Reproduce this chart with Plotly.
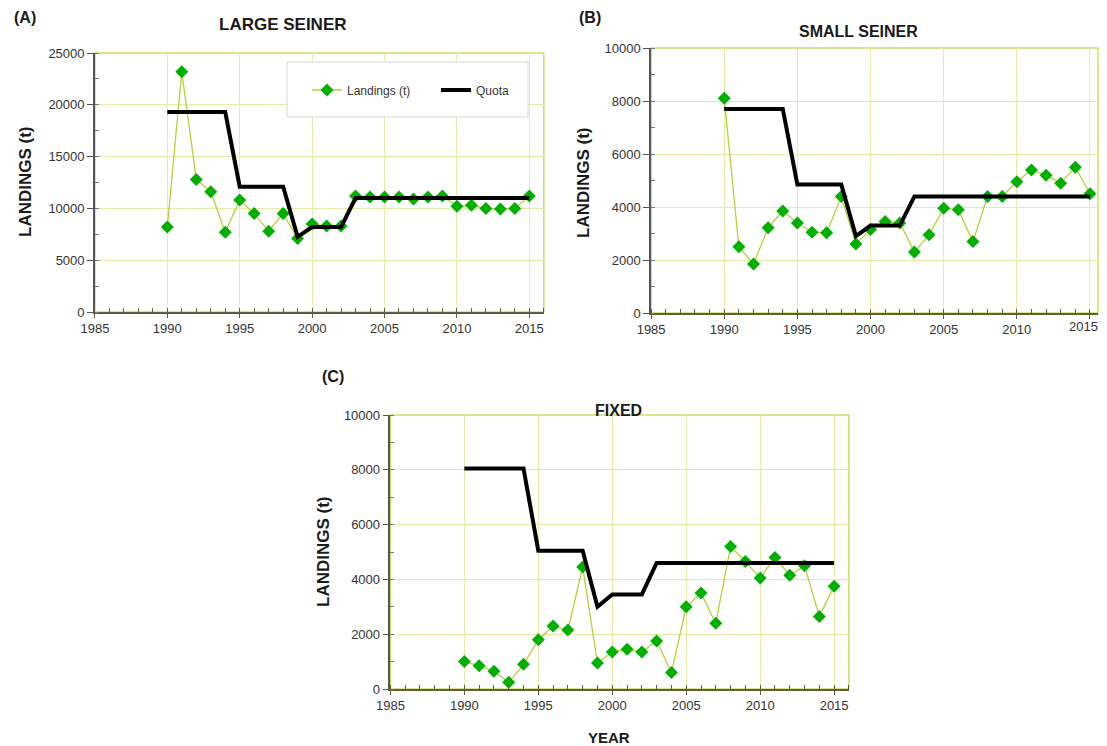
import plotly.graph_objects as go

years = list(range(1990, 2016))

large_landings = [8200, 23200, 12800, 11600, 7700, 10800, 9500, 7800, 9500, 7100,
                  8500, 8300, 8300, 11200, 11100, 11100, 11100, 10900, 11100, 11200,
                  10200, 10300, 10000, 9950, 10000, 11200]
large_quota = [19300, 19300, 19300, 19300, 19300, 12100, 12100, 12100, 12100, 7250,
               8200, 8200, 8200, 11000, 11000, 11000, 11000, 11000, 11000, 11000,
               11000, 11000, 11000, 11000, 11000, 11000]

small_landings = [8100, 2500, 1850, 3220, 3850, 3400, 3050, 3030, 4400, 2600,
                  3150, 3450, 3400, 2300, 2950, 3950, 3900, 2700, 4400, 4400,
                  4950, 5400, 5200, 4900, 5500, 4500]
small_quota = [7700, 7700, 7700, 7700, 7700, 4850, 4850, 4850, 4850, 2900,
               3300, 3300, 3300, 4400, 4400, 4400, 4400, 4400, 4400, 4400,
               4400, 4400, 4400, 4400, 4400, 4400]

fixed_landings = [1000, 850, 650, 250, 900, 1800, 2300, 2150, 4450, 950,
                  1350, 1450, 1350, 1750, 600, 3000, 3500, 2400, 5200, 4650,
                  4050, 4800, 4150, 4500, 2650, 3750]
fixed_quota = [8050, 8050, 8050, 8050, 8050, 5050, 5050, 5050, 5050, 3000,
               3450, 3450, 3450, 4600, 4600, 4600, 4600, 4600, 4600, 4600,
               4600, 4600, 4600, 4600, 4600, 4600]

x_ticks = [1985, 1990, 1995, 2000, 2005, 2010, 2015]
x_labels = [str(v) for v in x_ticks]

# the page body has an 8px margin: the figure starts at (8, 8) in the window
OFF = 8
W, H = 1107 - OFF, 746 - OFF
FONT = "Arial, Liberation Sans, sans-serif"
GREEN_LINE = "#b7cf3c"
MARKER = "#00b000"
GRID = "#e4eca8"
BORDER = "#cfdc6a"
AXIS = "#5e5e3a"


def fx(x):
    return (x - OFF) / W


def fy(y):
    return 1 - (y - OFF) / H


# panel B's last label sits at the window edge; it is drawn as an annotation nudged inward
b_labels = x_labels[:-1] + [""]

panels = [
    dict(land=large_landings, quota=large_quota, xmax=2016, labels=x_labels,
         ymax=25000, dtick=5000, minor=2500, px=(94.9, 543.8), py=(53, 312)),
    dict(land=small_landings, quota=small_quota, xmax=2015.55, labels=b_labels,
         ymax=10000, dtick=2000, minor=1000, px=(651.1, 1098.0), py=(48, 313)),
    dict(land=fixed_landings, quota=fixed_quota, xmax=2016, labels=x_labels,
         ymax=10000, dtick=2000, minor=1000, px=(390.4, 848.9), py=(415, 689)),
]

fig = go.Figure()
layout = dict(width=W, height=H, margin=dict(l=0, r=0, t=0, b=0, autoexpand=False),
              paper_bgcolor="white", plot_bgcolor="white",
              font=dict(family=FONT, color="#333333"),
              showlegend=True,
              legend=dict(x=fx(307), y=fy(90), xanchor="left", yanchor="middle",
                          orientation="h", bgcolor="rgba(0,0,0,0)", borderwidth=0,
                          font=dict(size=12, family=FONT, color="#333"),
                          itemwidth=30, entrywidth=84, tracegroupgap=0),
              shapes=[], annotations=[])

# legend frame
layout["shapes"].append(dict(type="rect", xref="paper", yref="paper",
                             x0=fx(287), x1=fx(528), y0=fy(117), y1=fy(62),
                             line=dict(color="#d8d8d8", width=1), fillcolor="white",
                             layer="above"))

for i, p in enumerate(panels):
    n = "" if i == 0 else str(i + 1)
    xa, ya = "x" + n, "y" + n
    fig.add_trace(go.Scatter(x=years, y=p["land"], mode="lines+markers", name="Landings (t)",
                             line=dict(color=GREEN_LINE, width=1.3),
                             marker=dict(symbol="diamond", size=10, color=MARKER,
                                         line=dict(width=0)),
                             xaxis=xa, yaxis=ya, showlegend=(i == 0)))
    fig.add_trace(go.Scatter(x=years, y=p["quota"], mode="lines", name="Quota",
                             line=dict(color="black", width=4),
                             xaxis=xa, yaxis=ya, showlegend=(i == 0)))
    layout["xaxis" + n] = dict(
        domain=[fx(p["px"][0]), fx(p["px"][1])], anchor=ya, automargin=False,
        range=[1985, p["xmax"]], tickvals=x_ticks, ticktext=p["labels"],
        ticklabeloverflow="allow",
        showgrid=True, gridcolor=GRID, gridwidth=1,
        showline=True, linecolor=AXIS, linewidth=1.5,
        ticks="outside", ticklen=4, tickcolor=AXIS,
        minor=dict(dtick=1, tick0=1985, ticks="inside", ticklen=4, tickcolor=AXIS, showgrid=False),
        tickfont=dict(size=13, family=FONT, color="#333"), zeroline=False, fixedrange=True)
    layout["yaxis" + n] = dict(
        domain=[fy(p["py"][1]), fy(p["py"][0])], anchor=xa, automargin=False,
        range=[0, p["ymax"]], dtick=p["dtick"], tick0=0, tickformat="d",
        ticklabeloverflow="allow",
        showgrid=True, gridcolor=GRID, gridwidth=1,
        showline=True, linecolor="#555555", linewidth=1.5,
        ticks="outside", ticklen=6, tickcolor="#555555",
        minor=dict(dtick=p["minor"], ticks="inside", ticklen=4, tickcolor="#777777", showgrid=False),
        tickfont=dict(size=13, family=FONT, color="#333"), zeroline=False, fixedrange=True)
    layout["shapes"].append(dict(type="rect", xref=xa + " domain", yref=ya + " domain",
                                 x0=0, x1=1, y0=0, y1=1, line=dict(color=BORDER, width=1.5),
                                 layer="below"))

# last x label of panel B, anchored to its tick but pulled inside the window
layout["annotations"].append(dict(text=x_labels[-1], x=x_ticks[-1], xref="x2",
                                  y=0, yref="y2 domain", xanchor="center", yanchor="top",
                                  xshift=-6, yshift=-4, showarrow=False,
                                  font=dict(size=13, family=FONT, color="#333")))


def ann(text, x, y, size, angle=0):
    layout["annotations"].append(dict(text=text, x=fx(x), y=fy(y), xref="paper", yref="paper",
                                      xanchor="center", yanchor="middle",
                                      showarrow=False, textangle=angle,
                                      font=dict(size=size, family=FONT, color="#1a1a1a")))


ann("<b>(A)</b>", 25, 17, 16)
ann("<b>LARGE SEINER</b>", 283, 25, 17)
ann("<b>(B)</b>", 590, 17, 16)
ann("<b>SMALL SEINER</b>", 858, 31, 16)
ann("<b>(C)</b>", 333, 376, 16)
ann("<b>FIXED</b>", 618, 410, 16)
ann("<b>YEAR</b>", 609, 737, 15)
ann("<b>LANDINGS (t)</b>", 25, 182, 17, -90)
ann("<b>LANDINGS (t)</b>", 583, 183, 17, -90)
ann("<b>LANDINGS (t)</b>", 323, 552, 17, -90)

fig.update_layout(**layout)
fig.write_html("out.html")
